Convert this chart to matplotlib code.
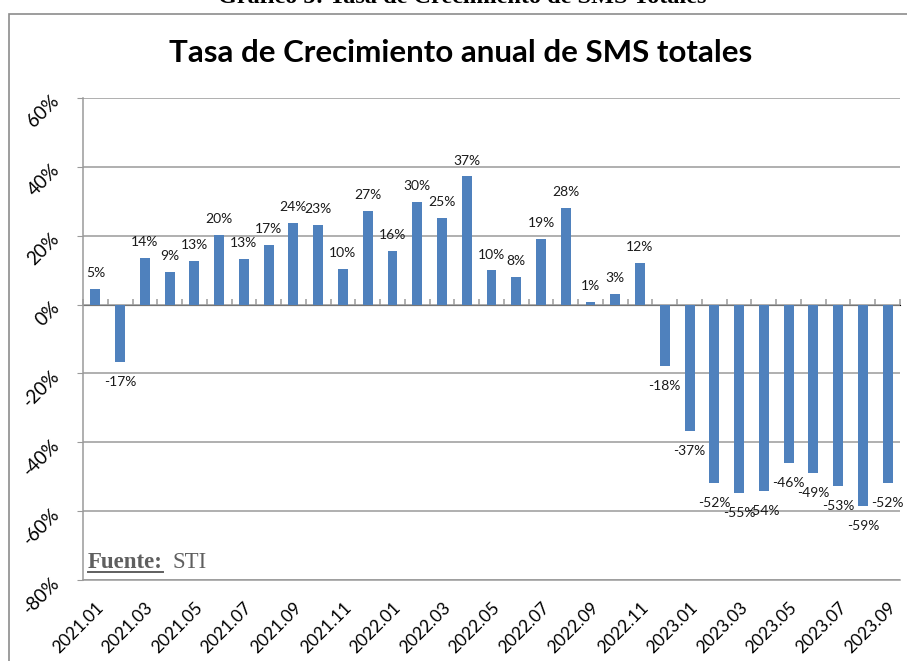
import matplotlib
matplotlib.use('Agg')

import matplotlib.pyplot as plt
from matplotlib.patches import Rectangle
from matplotlib.lines import Line2D
import numpy as np

#-- data --#
months = ['2021.01', '2021.02', '2021.03', '2021.04', '2021.05', '2021.06',
          '2021.07', '2021.08', '2021.09', '2021.10', '2021.11', '2021.12',
          '2022.01', '2022.02', '2022.03', '2022.04', '2022.05', '2022.06',
          '2022.07', '2022.08', '2022.09', '2022.10', '2022.11', '2022.12',
          '2023.01', '2023.02', '2023.03', '2023.04', '2023.05', '2023.06',
          '2023.07', '2023.08', '2023.09']
growth = [4.6, -16.6, 13.6, 9.4, 12.6, 20.3, 13.2, 17.3, 23.7, 23.2, 10.3,
          27.2, 15.6, 29.7, 25.1, 37.2, 9.9, 7.9, 19.0, 28.0, 0.8, 3.1, 12.1,
          -17.7, -36.6, -51.7, -54.6, -54.1, -45.9, -49.0, -52.6, -58.6, -51.7]
y_ticks = [-80, -60, -40, -20, 0, 20, 40, 60]

BAR = '#4F81BD'
GRID = '#9a9a9a'
FONT = 'Lato'

W, H = 907, 661
fig = plt.figure(figsize=(W / 100, H / 100), dpi=100)

#-- outer frame --#
fig.patches.append(Rectangle((9 / W, -0.05), 1.1, 1 - 14 / H + 0.05,
                             transform=fig.transFigure, fill=False,
                             edgecolor='#8c8c8c', linewidth=1.2))

#-- captions --#
fig.text(0.51, 1 - 3 / H, 'Gráfico 5: Tasa de Crecimiento de SMS Totales',
         ha='center', va='baseline', family='Liberation Serif',
         weight='bold', size=17.5, color='black')
fig.text(461 / W, 1 - 62 / H, 'Tasa de Crecimiento anual de SMS totales',
         ha='center', va='baseline', family=FONT, weight='bold', size=22.5,
         color='black')

ax = fig.add_axes([83 / W, 1 - 580 / H, (900 - 83) / W, (580 - 98) / H])
x = np.arange(len(months))
ax.bar(x, growth, width=0.4, color=BAR, zorder=3)

#-- data labels --#
for xi, v in zip(x, growth):
    off = 11.5 if v >= 0 else -14.5
    ax.annotate(f'{v:.0f}%', (xi, v), xytext=(0, off),
                textcoords='offset points', ha='center', va='center',
                family=FONT, size=10, color='#1a1a1a', zorder=4)

#-- axes --#
ax.set_xlim(-0.5, len(months) - 0.5)
ax.set_ylim(-80, 60)
ax.set_yticks(y_ticks)
ax.set_yticklabels([f'{t}%' for t in y_ticks], rotation=45,
                   rotation_mode='anchor', ha='right', va='center',
                   family=FONT, size=13.5)
ax.set_xticks(x[::2])
ax.set_xticklabels(months[::2], rotation=45, rotation_mode='anchor',
                   ha='right', va='top', family=FONT, size=12.5)
ax.tick_params(axis='x', length=0, pad=14)
ax.tick_params(axis='y', length=4, color=GRID, pad=15)
ax.grid(axis='y', color=GRID, linewidth=1.1, zorder=0)
for s in ['top', 'right']:
    ax.spines[s].set_visible(False)
ax.spines['left'].set_color(GRID)
ax.spines['bottom'].set_color(GRID)
ax.spines['left'].set_linewidth(1.1)
ax.spines['bottom'].set_linewidth(1.1)

# category axis crossing at 0
sec = ax.secondary_xaxis(80 / 140)
sec.set_xticks(np.arange(-0.5, len(months), 1.0))
sec.set_xticklabels([])
sec.tick_params(direction='out', length=4, color=GRID, width=1.1)
sec.spines['bottom'].set_color(GRID)
sec.spines['bottom'].set_linewidth(1.1)

#-- source note --#
t1 = fig.text(88 / W, 1 - 568 / H, 'Fuente:', family='Liberation Serif',
              weight='bold', size=16.5, color='#5f5f5f', va='baseline')
fig.text(173 / W, 1 - 568 / H, 'STI', family='Liberation Serif',
         size=16.5, color='#5f5f5f', va='baseline')
fig.canvas.draw()
bb = t1.get_window_extent().transformed(fig.transFigure.inverted())
uy = 1 - 572 / H
fig.add_artist(Line2D([bb.x0, bb.x1], [uy, uy], transform=fig.transFigure,
                      color='#5f5f5f', linewidth=1.4))

plt.savefig('out.png', dpi=100)
